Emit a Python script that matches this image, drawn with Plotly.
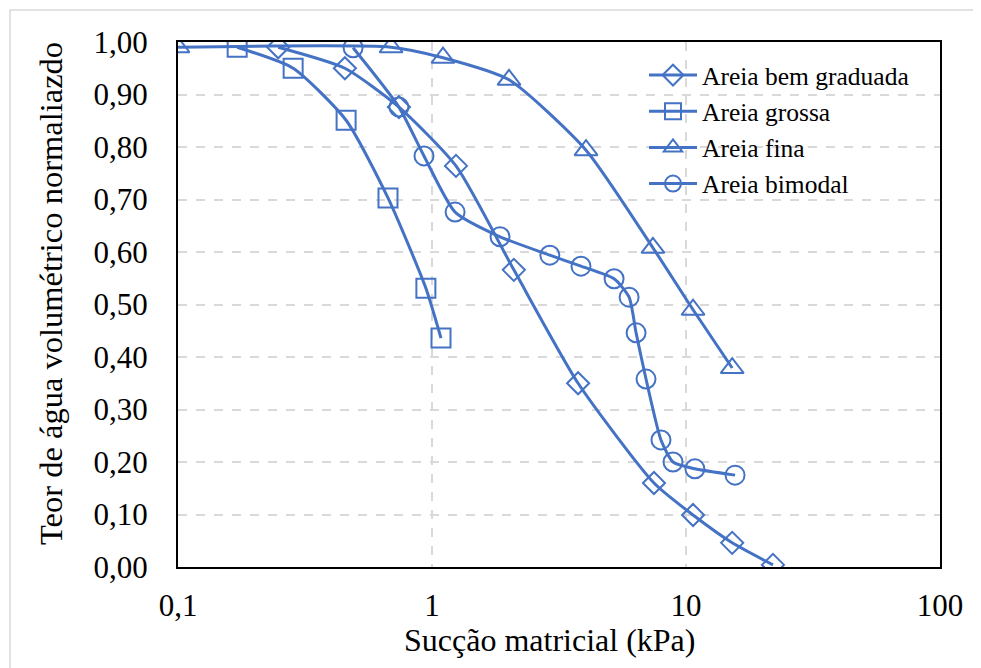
import plotly.graph_objects as go

# ---- data ----
bem_x = [0.248, 0.454, 0.741, 1.243, 2.10, 3.76, 7.48, 10.66, 15.2, 22.0]
bem_y = [0.990, 0.950, 0.876, 0.764, 0.566, 0.350, 0.160, 0.099, 0.046, 0.004]

grossa_x = [0.171, 0.284, 0.459, 0.671, 0.946, 1.085]
grossa_y = [0.990, 0.950, 0.851, 0.703, 0.531, 0.436]

fina_x = [0.100, 0.690, 1.105, 2.01, 4.04, 7.41, 10.66, 15.2]
fina_y = [0.990, 0.990, 0.970, 0.928, 0.794, 0.608, 0.490, 0.379]

bim_x = [0.489, 0.741, 0.930, 1.233, 1.853, 2.91, 3.86, 5.21, 5.97, 6.36, 6.96, 7.97, 8.89, 10.84, 15.6]
bim_y = [0.989, 0.876, 0.783, 0.676, 0.629, 0.594, 0.573, 0.549, 0.514, 0.446, 0.358, 0.242, 0.200, 0.187, 0.175]

names = ["Areia bem graduada", "Areia grossa", "Areia fina", "Areia bimodal"]
symbols = ["diamond-open", "square-open", "triangle-up-open", "circle-open"]
xs = [bem_x, grossa_x, fina_x, bim_x]
ys = [bem_y, grossa_y, fina_y, bim_y]

x_tickvals = [0.1, 1, 10, 100]
x_ticktext = ["0,1", "1", "10", "100"]
y_tickvals = [i / 10 for i in range(11)]

COLOR = "#4472C4"
FONT = "'Liberation Serif', 'DejaVu Serif', serif"

fig = go.Figure()
sizes = [17, 19, 20, 19]
for n, s, x, y, sz in zip(names, symbols, xs, ys, sizes):
    fig.add_trace(go.Scatter(
        x=x, y=y, name=n, mode="lines+markers",
        line=dict(color=COLOR, width=3, shape="spline", smoothing=0.6),
        marker=dict(symbol=s, size=sz, color=COLOR, line=dict(color=COLOR, width=2)),
    ))

# page offset (browser body margin) compensation
OX, OY = 8, 8
W, H = 981, 668
# target plot area in screen pixels
PL, PR, PT, PB = 178, 940, 42, 567
L = PL - OX
T = PT - OY
R = W - (PR - OX)
B = H - (PB - OY)
pw = PR - PL
ph = PB - PT


def px(x):
    return (x - PL) / pw


def py(y):
    return (PB - y) / ph


fig.update_layout(
    width=W, height=H,
    margin=dict(l=L, r=R, t=T, b=B),
    paper_bgcolor="white", plot_bgcolor="white",
    separators=", ",
    font=dict(family=FONT, color="black"),
    showlegend=True,
    legend=dict(
        x=px(644), y=py(52), xanchor="left", yanchor="top",
        bgcolor="rgba(0,0,0,0)", font=dict(size=25.5, family=FONT),
        itemwidth=48, tracegroupgap=0,
    ),
)
fig.update_xaxes(
    type="log", range=[-1, 2],
    tickvals=x_tickvals, ticktext=x_ticktext,
    tickfont=dict(size=31, family=FONT),
    showgrid=True, gridcolor="#D9D9D9", griddash="dash", gridwidth=1.5,
    showline=True, linecolor="black", linewidth=2, mirror=True,
    ticks="", ticklabelstandoff=10, zeroline=False,
)
fig.update_yaxes(
    range=[0, 1], tickvals=y_tickvals, tickformat=".2f",
    tickfont=dict(size=31, family=FONT),
    showgrid=True, gridcolor="#D9D9D9", griddash="dash", gridwidth=1.5,
    showline=True, linecolor="black", linewidth=2, mirror=True,
    ticks="", ticklabelstandoff=22, zeroline=False,
)

# axis titles as annotations positioned in pixels
fig.add_annotation(
    text="Sucção matricial (kPa)", xref="paper", yref="paper",
    x=px(549), y=py(640), xanchor="center", yanchor="middle",
    showarrow=False, font=dict(size=32, family=FONT, color="black"),
)
fig.add_annotation(
    text="Teor de água volumétrico normaliazdo", xref="paper", yref="paper",
    x=px(51), y=py(294), xanchor="center", yanchor="middle",
    textangle=-90, showarrow=False, font=dict(size=32.5, family=FONT, color="black"),
)

# outer chart-area border
fig.add_shape(
    type="rect", xref="paper", yref="paper",
    x0=px(10), x1=px(1000), y0=py(690), y1=py(10),
    line=dict(color="#D9D9D9", width=1.5), fillcolor="rgba(0,0,0,0)", layer="below",
)

fig.write_html("out.html")
